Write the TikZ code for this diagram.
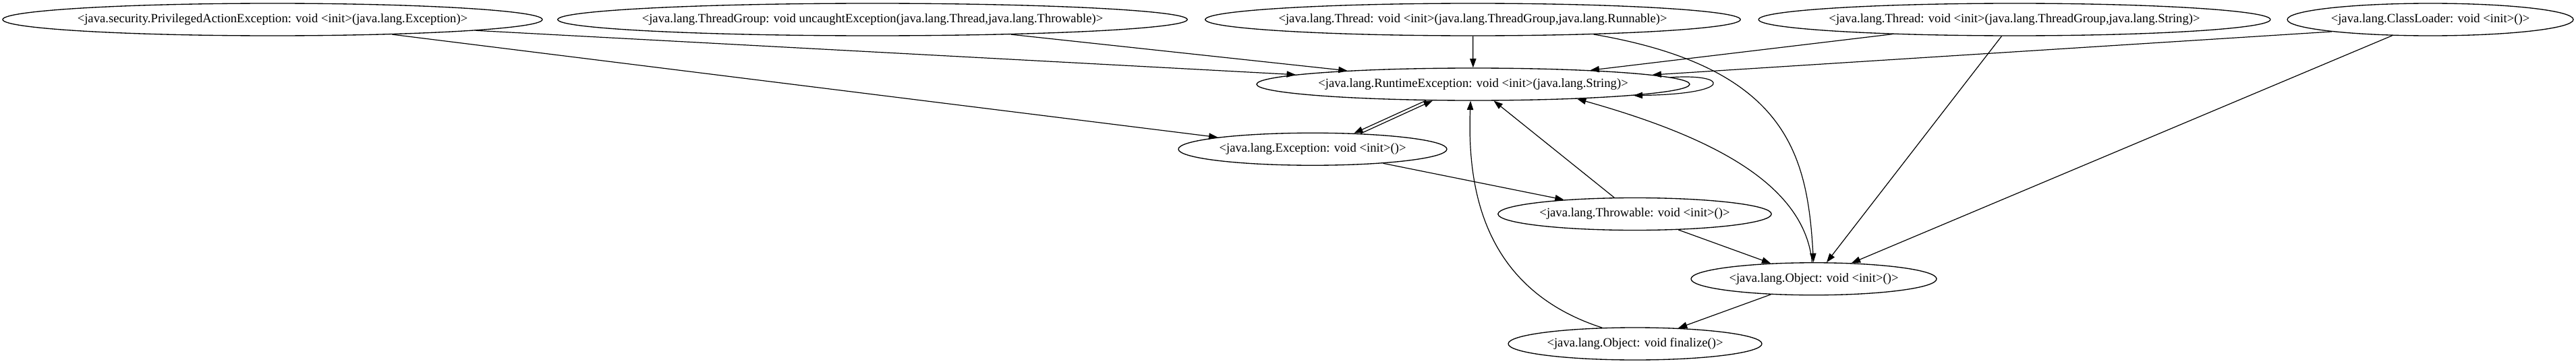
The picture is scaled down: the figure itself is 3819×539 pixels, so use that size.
\documentclass[tikz,border=0pt]{standalone}
\usepackage{fontspec}
\setmainfont{Liberation Serif}
\usetikzlibrary{shapes.geometric,arrows.meta}

\begin{document}
\begin{tikzpicture}[x=0.75pt,y=-0.75pt,
    meth/.style={ellipse,draw,line width=1pt,inner ysep=0pt,inner xsep=-40pt,minimum height=36pt,
      font=\fontsize{14}{16}\selectfont},
    call/.style={line width=0.9pt,-{Stealth[length=10pt,width=7pt,inset=0pt]}}]
    \useasboundingbox (0,0) rectangle (3819,539);

    \node[meth,minimum width=600pt] (priv) at (404,29) {<java.security.PrivilegedActionException: void <init>(java.lang.Exception)>};
    \node[meth,minimum width=700pt] (tgroup) at (1293.5,29) {<java.lang.ThreadGroup: void uncaughtException(java.lang.Thread,java.lang.Throwable)>};
    \node[meth,minimum width=595pt] (trun) at (2183.5,29) {<java.lang.Thread: void <init>(java.lang.ThreadGroup,java.lang.Runnable)>};
    \node[meth,minimum width=569pt] (tstr) at (2986.5,29) {<java.lang.Thread: void <init>(java.lang.ThreadGroup,java.lang.String)>};
    \node[meth,minimum width=318pt] (cload) at (3603,29) {<java.lang.ClassLoader: void <init>()>};

    \node[meth,minimum width=481.5pt] (rte) at (2184,125) {<java.lang.RuntimeException: void <init>(java.lang.String)>};
    \node[meth,minimum width=298.5pt] (exc) at (1946,221.25) {<java.lang.Exception: void <init>()>};
    \node[meth,minimum width=304pt] (thr) at (2423.5,317.5) {<java.lang.Throwable: void <init>()>};
    \node[meth,minimum width=273pt] (obj) at (2689,413.75) {<java.lang.Object: void <init>()>};
    \node[meth,minimum width=282pt] (fin) at (2424,510) {<java.lang.Object: void finalize()>};

    \draw[call] (priv) -- (rte);
    \draw[call] (priv) -- (exc);
    \draw[call] (tgroup) -- (rte);
    \draw[call] (trun) -- (rte);
    \draw[call] (trun.-7) .. controls +(287,49) and +(-9,-160) .. (obj.91);
    \draw[call] (tstr) -- (rte);
    \draw[call] (tstr) -- (obj);
    \draw[call] (cload.187) -- (rte.3);
    \draw[call] (cload) -- (obj);
    \draw[call] (rte.2) .. controls +(88,-6) and +(149,-2) .. (rte.-4);
    \draw[call] (rte.-161) -- (exc.21);
    \draw[call] (exc.18) -- (rte.-158);
    \draw[call] (exc) -- (thr);
    \draw[call] (thr) -- (rte);
    \draw[call] (thr) -- (obj);
    \draw[call] (obj.96) .. controls +(-11.5,-120) and +(189.6,53.4) .. (rte.-8);
    \draw[call] (obj) -- (fin);
    \draw[call] (fin.154) .. controls +(-176,-57) and +(-5,131) .. (rte.-99);
\end{tikzpicture}
\end{document}
